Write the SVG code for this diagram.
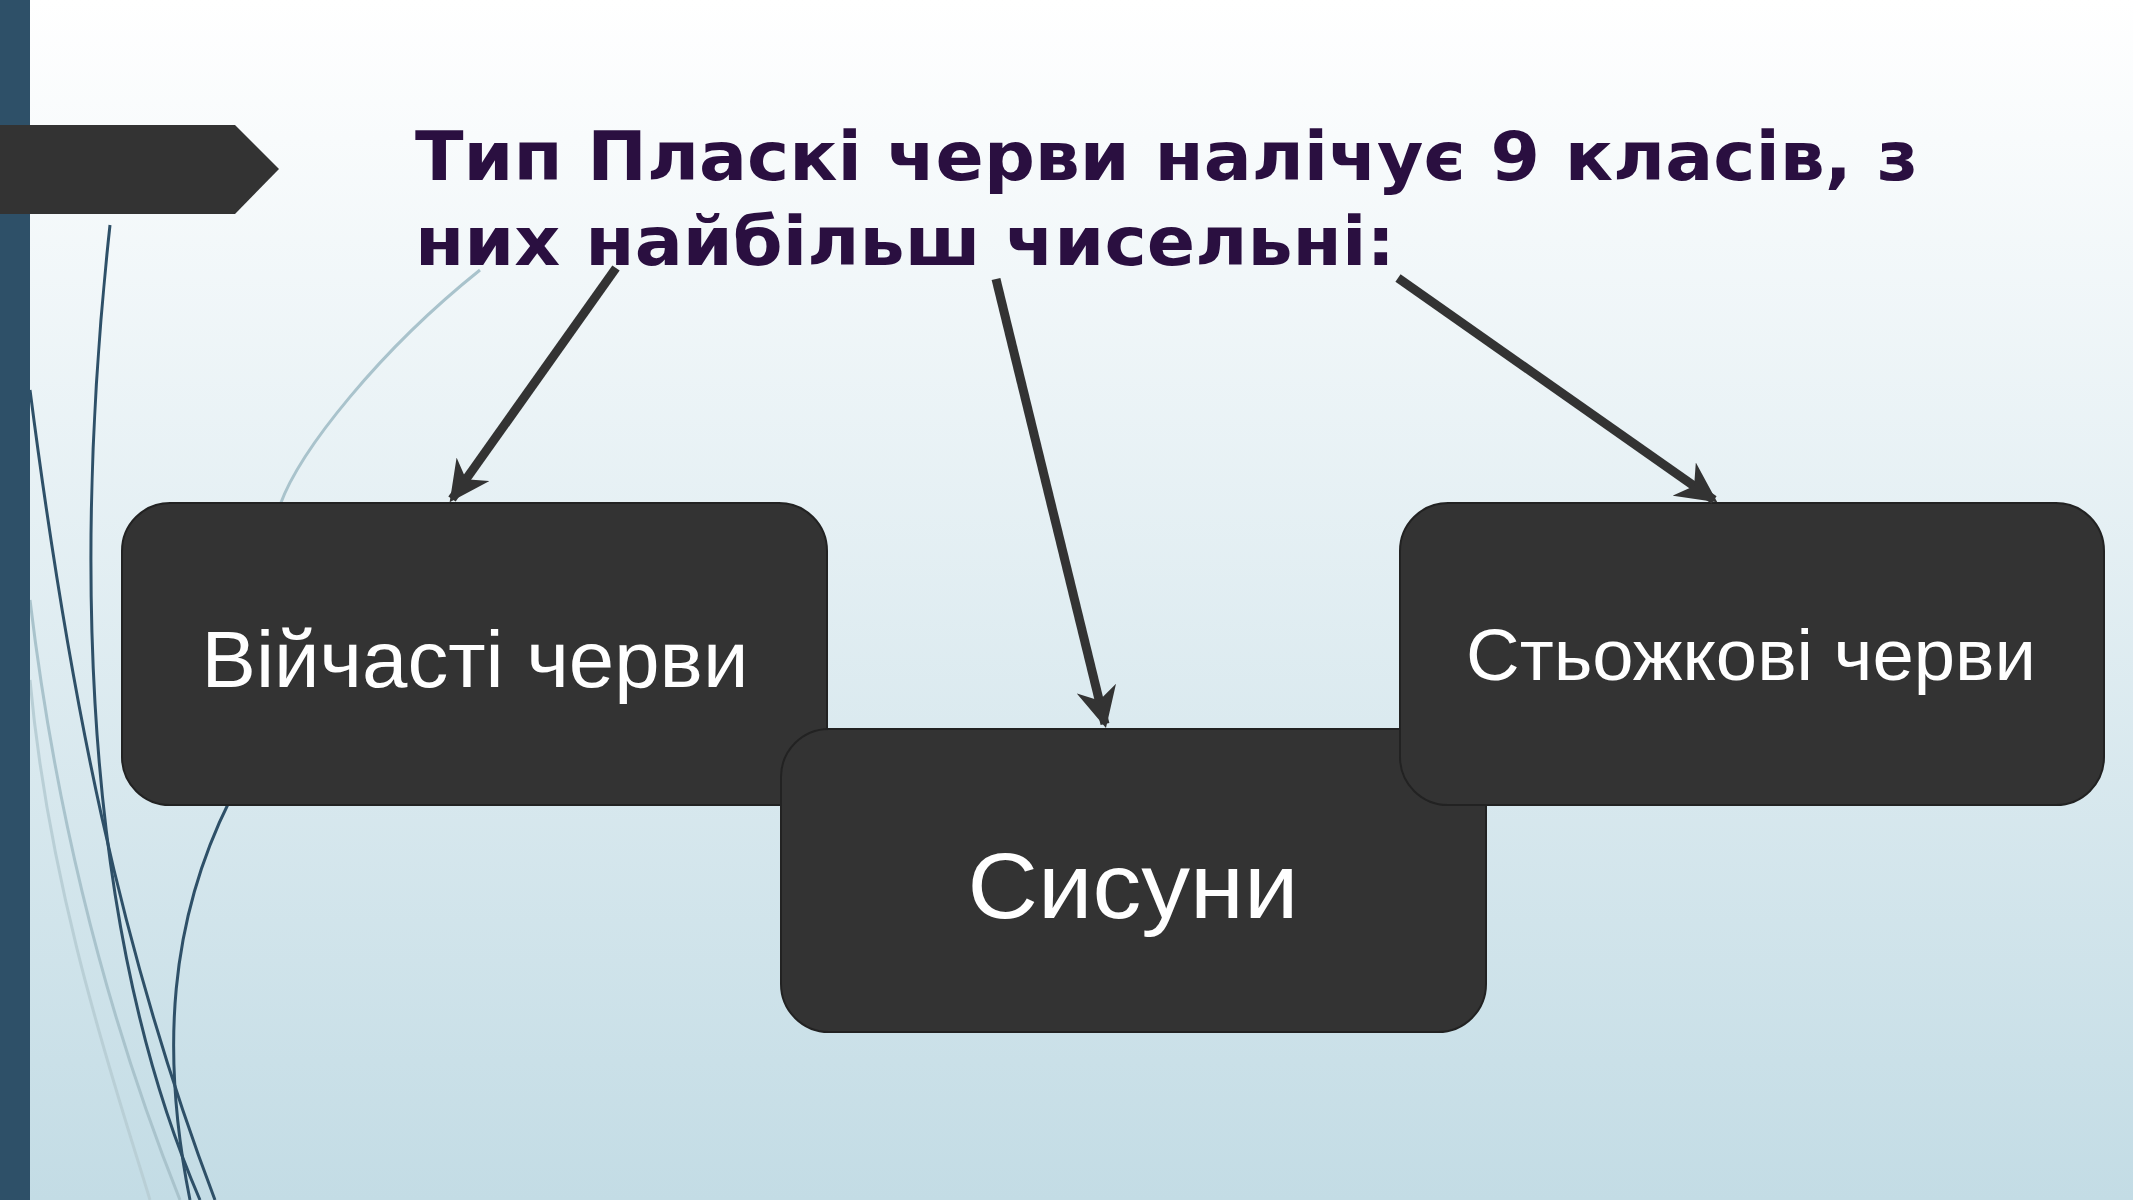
<svg xmlns="http://www.w3.org/2000/svg" width="2133" height="1200" viewBox="0 0 2133 1200">
<defs>
<linearGradient id="bg" x1="0" y1="0" x2="0" y2="1"><stop offset="0" stop-color="#ffffff"/><stop offset="1" stop-color="#c3dce5"/></linearGradient>
<marker id="ah" viewBox="0 0 10 10" refX="9" refY="5" markerWidth="4.5" markerHeight="4.5" orient="auto"><path d="M0,0 L10,5 L0,10 L3,5 Z" fill="#333"/></marker>
</defs>
<style>
.box{fill:#333;stroke:#222;stroke-width:2}
.lbl{font-family:"Liberation Sans",Arial,sans-serif;fill:#fff;text-anchor:middle}
.ttl{font-family:"DejaVu Sans",Verdana,sans-serif;font-weight:bold;fill:#2a0f40;font-size:68px}
.conn{stroke:#333;stroke-width:9;fill:none;marker-end:url(#ah)}
.deco{fill:none;stroke-width:3}
</style>
<rect width="2133" height="1200" fill="url(#bg)"/>
<g id="decor">
<path class="deco" stroke="#2e5068" d="M30,390 C70,700 120,950 215,1200"/>
<path class="deco" stroke="#2e5068" d="M110,225 C80,500 70,900 200,1200"/>
<path class="deco" stroke="#2e5068" d="M230,800 C170,920 160,1050 190,1200"/>
<path class="deco" stroke="#a9c3cc" d="M30,600 C60,850 120,1050 180,1200"/>
<path class="deco" stroke="#a9c3cc" d="M480,270 C380,350 300,450 280,505"/>
<path class="deco" stroke="#b9cfd6" d="M30,680 C50,900 120,1100 150,1200"/>
<rect x="0" y="0" width="30" height="1200" fill="#2e5068"/>
<path d="M0,125 L235,125 L279,169 L235,214 L0,214 Z" fill="#333"/>
</g>
<g id="title">
<text class="ttl" x="415" y="180" textLength="1503" lengthAdjust="spacingAndGlyphs">Тип Пласкі черви налічує 9 класів, з</text>
<text class="ttl" x="415" y="265" textLength="980" lengthAdjust="spacingAndGlyphs">них найбільш чисельні:</text>
</g>
<g id="node1"><rect class="box" x="122" y="503" width="705" height="302" rx="48"/><text class="lbl" x="475" y="687" font-size="80" textLength="547" lengthAdjust="spacingAndGlyphs">Війчасті черви</text></g>
<g id="node2"><rect class="box" x="781" y="729" width="705" height="303" rx="48"/><text class="lbl" x="1133" y="918" font-size="92" textLength="331" lengthAdjust="spacingAndGlyphs">Сисуни</text></g>
<g id="node3"><rect class="box" x="1400" y="503" width="704" height="302" rx="48"/><text class="lbl" x="1751" y="680" font-size="72" textLength="570" lengthAdjust="spacingAndGlyphs">Стьожкові черви</text></g>
<g id="connectors">
<line class="conn" x1="616" y1="268" x2="452" y2="499"/>
<line class="conn" x1="996" y1="279" x2="1105" y2="724"/>
<line class="conn" x1="1398" y1="278" x2="1714" y2="500"/>
</g>
</svg>
